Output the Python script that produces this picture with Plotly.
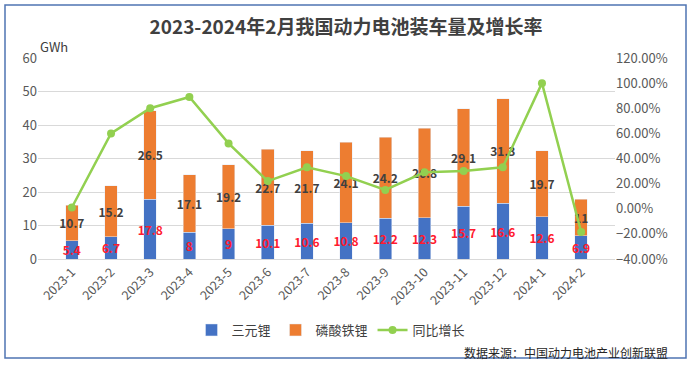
import plotly.graph_objects as go

months = ["2023-1", "2023-2", "2023-3", "2023-4", "2023-5", "2023-6", "2023-7",
          "2023-8", "2023-9", "2023-10", "2023-11", "2023-12", "2024-1", "2024-2"]
ternary = [5.4, 6.7, 17.8, 8, 9, 10.1, 10.6, 10.8, 12.2, 12.3, 15.7, 16.6, 12.6, 6.9]
lfp = [10.7, 15.2, 26.5, 17.1, 19.2, 22.7, 21.7, 24.1, 24.2, 26.8, 29.1, 31.3, 19.7, 11]
growth = [0.01, 0.60, 0.80, 0.89, 0.52, 0.22, 0.33, 0.26, 0.15, 0.29, 0.30, 0.33, 1.00, -0.185]

FONT = "Noto Sans CJK SC"
BLUE = "#4472C4"
ORANGE = "#ED7D31"
GREEN = "#92D050"

fig = go.Figure()
fig.add_trace(go.Bar(
    x=months, y=ternary, name="三元锂", marker_color=BLUE,
    text=[f"{v:g}" for v in ternary], textposition="inside", insidetextanchor="middle",
    constraintext="none", textangle=0,
    textfont=dict(family=FONT, size=12, color="#FF1A2E", weight="bold"),
))
fig.add_trace(go.Bar(
    x=months, y=lfp, name="磷酸铁锂", marker_color=ORANGE,
    text=[f"{v:g}" for v in lfp], textposition="inside", insidetextanchor="middle",
    constraintext="none", textangle=0,
    textfont=dict(family=FONT, size=12, color="#404040", weight="bold"),
))
fig.add_trace(go.Scatter(
    x=months, y=growth, name="同比增长", yaxis="y2", mode="lines+markers",
    line=dict(color=GREEN, width=2.5), marker=dict(color=GREEN, size=8),
))

fig.update_layout(
    width=693, height=365,
    margin=dict(l=38, r=78, t=58, b=106),
    paper_bgcolor="white", plot_bgcolor="white",
    barmode="stack", bargap=0.68,
    font=dict(family=FONT, color="#595959", size=12),
    title=dict(text="<b>2023-2024年2月我国动力电池装车量及增长率</b>",
               x=346 / 693, xanchor="center", y=1 - 27 / 365, yanchor="middle",
               font=dict(family=FONT, size=19, color="#404040")),
    xaxis=dict(type="category", tickangle=-45, showgrid=False, showline=True,
               linecolor="#D9D9D9", ticks="", tickfont=dict(size=12.5, color="#595959")),
    yaxis=dict(range=[0, 60], dtick=10, gridcolor="#D9D9D9", zeroline=False,
               showline=False, tickfont=dict(size=13, color="#595959")),
    yaxis2=dict(range=[-0.4, 1.2], dtick=0.2, tickformat=".2%", overlaying="y",
                side="right", showgrid=False, zeroline=False,
                tickfont=dict(size=13, color="#595959")),
    legend=dict(orientation="h", x=(331 - 38) / 577, xanchor="center",
                y=(259 - 330) / 201, yanchor="middle",
                font=dict(size=13, color="#404040"), traceorder="normal"),
    showlegend=True,
)

fig.add_annotation(text="GWh", xref="paper", yref="paper", x=0, y=1.055,
                   xanchor="left", yanchor="middle", showarrow=False,
                   font=dict(family=FONT, size=13, color="#404040"))
fig.add_annotation(text="数据来源：中国动力电池产业创新联盟", xref="paper", yref="paper",
                   x=(670 - 38) / 577, y=(259 - 352) / 201, xanchor="right", yanchor="middle",
                   showarrow=False, font=dict(family=FONT, size=12, color="#262626"))
fig.add_shape(type="rect", xref="paper", yref="paper",
              x0=(5 - 38) / 577, x1=(686 - 38) / 577,
              y0=(259 - 358) / 201, y1=(259 - 5) / 201,
              line=dict(color="#4F74B3", width=1.5), fillcolor="rgba(0,0,0,0)", layer="below")

fig.write_html("out.html", config={"displayModeBar": False},
               post_script="document.body.style.margin='0';")
